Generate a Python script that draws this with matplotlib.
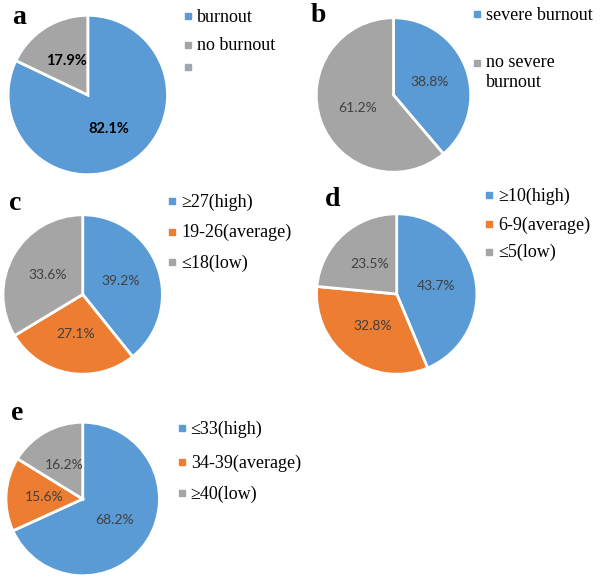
import matplotlib
matplotlib.use("Agg")
import matplotlib.pyplot as plt

# --- data ---
a_labels = ["burnout", "no burnout", ""]
a_values = [82.1, 17.9]

b_labels = ["severe burnout", "no severe\nburnout"]
b_values = [38.8, 61.2]

c_labels = ["\u226527(high)", "19-26(average)", "\u226418(low)"]
c_values = [39.2, 27.1, 33.6]

d_labels = ["\u226510(high)", "6-9(average)", "\u22645(low)"]
d_values = [43.7, 32.8, 23.5]

e_labels = ["\u226433(high)", "34-39(average)", "\u226540(low)"]
e_values = [68.2, 15.6, 16.2]

# --- style ---
BLUE = "#5B9BD5"
ORANGE = "#ED7D31"
GRAY = "#A5A5A5"
EXTRA = "#A2A5B3"
W, H = 602, 577
SERIF = "Liberation Serif"
SANS = "Lato"

fig = plt.figure(figsize=(W / 100, H / 100), dpi=100)


def pie_panel(cx, cy, r, values, colors, bold=False):
    """Place a pie whose bounding box is given in pixels (top-left origin)."""
    ax = fig.add_axes([(cx - r) / W, 1 - (cy + r) / H, 2 * r / W, 2 * r / H])
    txt = dict(fontsize=10.5, color="black", fontweight="bold", family=SANS) if bold \
        else dict(fontsize=10, color="#404040", family=SANS)
    ax.pie(values, colors=colors, startangle=90, counterclock=False,
           autopct="%.1f%%", pctdistance=0.5, radius=1,
           wedgeprops=dict(edgecolor="white", linewidth=2),
           textprops=txt)
    ax.set_aspect("auto")
    ax.set_xlim(-1.01, 1.01)
    ax.set_ylim(-1.01, 1.01)
    ax.axis("off")
    return ax


pie_panel(87.8, 95, 80.5, a_values, [BLUE, GRAY], bold=True)
pie_panel(393.5, 95, 78, b_values, [BLUE, GRAY])
pie_panel(82.7, 294.5, 80.5, c_values, [BLUE, ORANGE, GRAY])
pie_panel(396.7, 294, 81, d_values, [BLUE, ORANGE, GRAY])
pie_panel(82.7, 499, 77.5, e_values, [BLUE, ORANGE, GRAY])

# overlay in pixel coordinates for panel letters and legends
ov = fig.add_axes([0, 0, 1, 1])
ov.set_xlim(0, W)
ov.set_ylim(H, 0)
ov.axis("off")
ov.patch.set_alpha(0)

letters = [("a", 19, 17), ("b", 318, 16), ("c", 15, 203), ("d", 333, 199), ("e", 17, 413)]
for ch, x, y in letters:
    ov.text(x, y, ch, family=SERIF, fontsize=20, fontweight="bold",
            ha="center", va="center")


def legend(x, ys, labels, colors):
    for y, lab, col in zip(ys, labels, colors):
        ov.plot(x, y, marker="s", markersize=4.5, color=col, linestyle="none")
        ty = y + 1
        if "\n" in lab:
            # two-line label: first line sits beside the square
            ty = y + 1 + 8.5 * lab.count("\n")
        ov.text(x + 9, ty, lab, family=SERIF, fontsize=13, color="black",
                ha="left", va="center", linespacing=1.2)


legend(188.3, [16, 45, 66.7], a_labels, [BLUE, GRAY, EXTRA])
legend(477, [14, 63], b_labels, [BLUE, GRAY])
legend(172, [201, 231.7, 262], c_labels, [BLUE, ORANGE, GRAY])
legend(489, [195, 224.3, 251.7], d_labels, [BLUE, ORANGE, GRAY])
legend(181.7, [428.3, 462.3, 493.3], e_labels, [BLUE, ORANGE, GRAY])

fig.savefig("out.png", dpi=100)
